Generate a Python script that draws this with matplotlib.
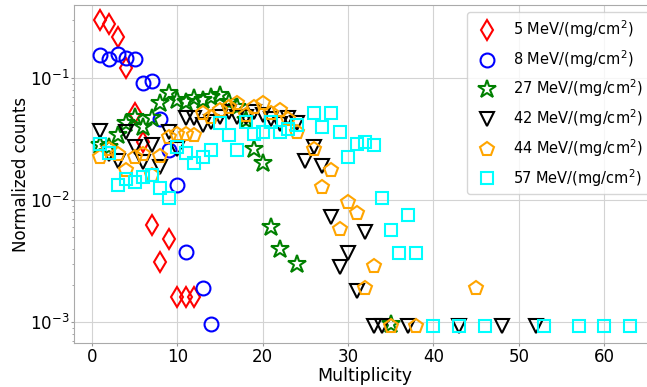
import matplotlib
matplotlib.use("Agg")
import matplotlib.pyplot as plt
import numpy as np

line_width = 1.5 ; floor = 0.00093

# 5 MeV/(mg/cm2)
x_5 = [1, 2, 3, 4, 5, 6, 7, 8, 9, 10, 11, 12]
y_5 = [0.30, 0.277, 0.217, 0.121, 0.052, 0.030, 0.0062, 0.0031, 0.0048, 0.0016, 0.0016, 0.0016]

# 8 MeV/(mg/cm2)
x_8 = [1, 2, 3, 4, 5, 6, 7, 8, 9, 10, 11, 13, 14]
y_8 = [0.154, 0.143, 0.157, 0.146, 0.142, 0.091, 0.094, 0.046, 0.0257, 0.0133, 0.00375, 0.0019, 0.00096]

# 27 MeV/(mg/cm2)
x_27 = [1, 2, 3, 4, 5, 6, 7, 8, 9, 10, 11, 12, 13, 14, 15, 16, 17, 18, 19, 20, 21, 22, 24, 35]
y_27 = [0.028, 0.027, 0.034, 0.043, 0.048, 0.040, 0.047, 0.062, 0.075, 0.066, 0.064, 0.068, 0.066, 0.070,
        0.072, 0.064, 0.058, 0.045, 0.026, 0.020, 0.006, 0.0040, 0.0030, 0.00097]

# 42 MeV/(mg/cm2)
x_42 = [1, 2, 3, 4, 5, 6, 7, 8, 9, 10, 11, 12, 13, 14, 15, 16, 17, 18, 19, 20, 21, 22, 23, 24,
        25, 26, 27, 28, 29, 30, 31, 32, 33, 34, 37, 43, 48, 52]
y_42 = [0.037, 0.024, 0.021, 0.036, 0.027, 0.0205, 0.028, 0.0186, 0.036, 0.026, 0.047, 0.047, 0.041, 0.044,
        0.048, 0.053, 0.048, 0.048, 0.053, 0.050, 0.046, 0.042, 0.047, 0.043, 0.021, 0.027, 0.019, 0.0073,
        0.0028, 0.0037, 0.0018, 0.0055, floor, floor, floor, floor, floor, floor]

# 44 MeV/(mg/cm2)
x_44 = [1, 2, 3, 4, 5, 6, 7, 8, 9, 10, 11, 12, 13, 14, 15, 16, 17, 18, 19, 20, 21, 22, 23, 24,
        26, 27, 28, 29, 30, 31, 32, 33, 35, 38, 45]
y_44 = [0.0225, 0.026, 0.024, 0.0177, 0.0225, 0.024, 0.016, 0.023, 0.033, 0.035, 0.035, 0.034, 0.052, 0.048,
        0.055, 0.058, 0.062, 0.050, 0.058, 0.062, 0.052, 0.055, 0.046, 0.036, 0.026, 0.0127, 0.0176, 0.0058,
        0.0096, 0.0078, 0.0019, 0.0029, floor, floor, 0.0019]

# 57 MeV/(mg/cm2)
x_57 = [1, 2, 3, 4, 5, 6, 7, 8, 9, 10, 11, 12, 13, 14, 15, 16, 17, 18, 19, 20, 21, 22, 23, 24,
        26, 27, 28, 29, 30, 31, 32, 33, 34, 35, 36, 37, 38, 40, 43, 46, 53, 57, 60, 63]
y_57 = [0.029, 0.0245, 0.0133, 0.015, 0.0141, 0.0154, 0.016, 0.0126, 0.0104, 0.027, 0.0245, 0.020, 0.0225,
        0.0257, 0.043, 0.034, 0.0257, 0.044, 0.035, 0.036, 0.044, 0.036, 0.038, 0.041, 0.052, 0.040, 0.052,
        0.036, 0.0226, 0.0288, 0.0299, 0.0283, 0.0104, 0.0057, 0.0037, 0.0075, 0.0037,
        floor, floor, floor, floor, floor, floor, floor]

labels = ["5 MeV/(mg/cm$^2$)", "8 MeV/(mg/cm$^2$)", "27 MeV/(mg/cm$^2$)",
          "42 MeV/(mg/cm$^2$)", "44 MeV/(mg/cm$^2$)", "57 MeV/(mg/cm$^2$)"]



fig = plt.figure(figsize = (6.47, 3.87), dpi = 100)
ax = fig.add_axes([0.1144, 0.1137, 0.9, 0.873])

series = [(x_5, y_5, "d", "red", 10.5),
          (x_8, y_8, "o", "blue", 10),
          (x_27, y_27, "*", "green", 13.5),
          (x_42, y_42, "v", "black", 10.5),
          (x_44, y_44, "p", "orange", 10.5),
          (x_57, y_57, "s", "cyan", 8)]

for (xs, ys, marker, color, size), label in zip(series, labels):
    ax.plot(xs, ys, linestyle = "none", marker = marker, markersize = size, markerfacecolor = "none",
            markeredgecolor = color, markeredgewidth = line_width, label = label)

ax.set_yscale("log")
ax.set_xlim(-2.1, 66.1)
ax.set_ylim(6.73e-4, 0.396)
ax.set_xticks([0, 10, 20, 30, 40, 50, 60])
ax.grid(True, color = "#d3d3d3", linewidth = 0.8)
ax.set_axisbelow(True)
ax.tick_params(labelsize = 12, color = "#999999", which = "both", length = 2.5, pad = 1)
ax.tick_params(which = "minor", length = 1.8)
ax.set_xlabel("Multiplicity", fontsize = 12.5, labelpad = 1)
ax.set_ylabel("Normalized counts", fontsize = 12, labelpad = 0)
for side in ["top", "right", "left", "bottom"]:
    ax.spines[side].set_color("#aaaaaa")
ax.legend(loc = "upper right", fontsize = 10.5, labelspacing = 0.55)

plt.savefig("out.png")
plt.close()
